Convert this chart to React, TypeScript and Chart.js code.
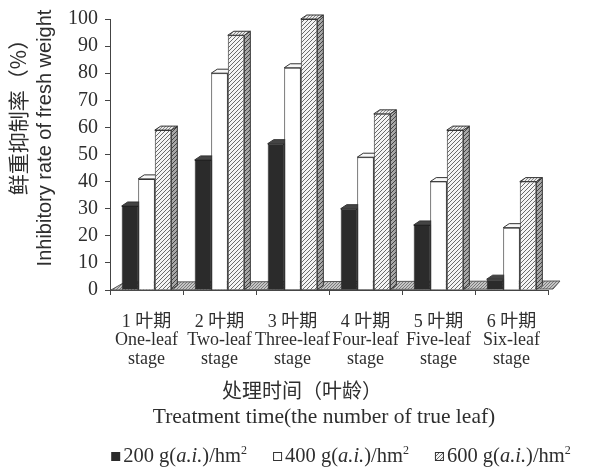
import React, { useEffect, useRef } from 'react';
import { Chart, registerables } from 'chart.js';
Chart.register(...registerables);

const categories: string[][] = [
  ['1 叶期', 'One-leaf', 'stage'],
  ['2 叶期', 'Two-leaf', 'stage'],
  ['3 叶期', 'Three-leaf', 'stage'],
  ['4 叶期', 'Four-leaf', 'stage'],
  ['5 叶期', 'Five-leaf', 'stage'],
  ['6 叶期', 'Six-leaf', 'stage'],
];
const doses = ['200', '400', '600'];
const rate200 = [31, 48, 54, 30, 24, 4];
const rate400 = [41, 80, 82, 49, 40, 23];
const rate600 = [59, 94, 100, 65, 59, 40];
const yMin = 0;
const yMax = 100;
const yStep = 10;
const yTitleLines = ['鲜重抑制率（%）', 'Inhibitory rate of fresh weight'];
const xTitleLines = ['处理时间（叶龄）', 'Treatment time(the number of true leaf)'];
const unitParts = [' g(', 'a.i.', ')/hm', '2'];

const SERIF = "'Liberation Serif', 'Times New Roman', 'Noto Sans CJK SC', serif";
const CJK = "'Noto Sans CJK SC', sans-serif";
const SANS = "'Liberation Sans', Arial, sans-serif";
const INK = '#2e2e2e';

function makeHatch(bg: string, fg: string, size: number) {
  const c = document.createElement('canvas');
  c.width = size;
  c.height = size;
  const g = c.getContext('2d')!;
  g.fillStyle = bg;
  g.fillRect(0, 0, size, size);
  g.fillStyle = fg;
  for (let i = 0; i < size; i++) g.fillRect(i, size - 1 - i, 1, 1);
  return g.createPattern(c, 'repeat')!;
}

function makeDots(bg: string, fg: string) {
  const c = document.createElement('canvas');
  c.width = 3;
  c.height = 3;
  const g = c.getContext('2d')!;
  g.fillStyle = bg;
  g.fillRect(0, 0, 3, 3);
  g.fillStyle = fg;
  g.fillRect(0, 0, 1, 1);
  g.fillRect(2, 1, 1, 1);
  g.fillRect(1, 2, 1, 1);
  return g.createPattern(c, 'repeat')!;
}

export default function App() {
  const ref = useRef<HTMLCanvasElement | null>(null);

  useEffect(() => {
    document.body.style.margin = '0';
    const canvas = ref.current!;
    const hatch = makeHatch('#f4f4f4', '#6a6a6a', 4);
    const hatchSide = makeHatch('#a8a8a8', '#444', 4);
    const dotsTop = makeDots('#e8e8e8', '#888');
    const floorFill = makeDots('#c4c4c4', '#7a7a7a');

    const fronts = ['#2b2b2b', '#ffffff', hatch];
    const sides = ['#151515', '#e6e6e6', hatchSide];
    const tops = ['#444', '#f8f8f8', dotsTop];

    const depthPlugin = {
      id: 'depth3d',
      beforeDatasetsDraw(chart: any) {
        const ctx = chart.ctx as CanvasRenderingContext2D;
        const a = chart.chartArea;
        ctx.save();
        ctx.beginPath();
        ctx.moveTo(a.left + 1, a.bottom);
        ctx.lineTo(a.left + 15, a.bottom - 8);
        ctx.lineTo(a.right + 12, a.bottom - 9);
        ctx.lineTo(a.right + 5, a.bottom - 1);
        ctx.closePath();
        ctx.fillStyle = floorFill;
        ctx.fill();
        ctx.strokeStyle = '#555';
        ctx.lineWidth = 1;
        ctx.stroke();
        const dx = 6;
        const dy = -4;
        chart.data.datasets.forEach((_ds: any, i: number) => {
          const meta = chart.getDatasetMeta(i);
          meta.data.forEach((el: any) => {
            const l = el.x - el.width / 2;
            const r = el.x + el.width / 2;
            const t = el.y;
            const b = el.base;
            ctx.beginPath();
            ctx.moveTo(r, t);
            ctx.lineTo(r + dx, t + dy);
            ctx.lineTo(r + dx, b + dy);
            ctx.lineTo(r, b);
            ctx.closePath();
            ctx.fillStyle = sides[i];
            ctx.fill();
            ctx.strokeStyle = '#333';
            ctx.stroke();
            ctx.beginPath();
            ctx.moveTo(l, t);
            ctx.lineTo(l + dx, t + dy);
            ctx.lineTo(r + dx, t + dy);
            ctx.lineTo(r, t);
            ctx.closePath();
            ctx.fillStyle = tops[i];
            ctx.fill();
            ctx.strokeStyle = '#333';
            ctx.stroke();
          });
        });
        ctx.restore();
      },
    };

    const textPlugin = {
      id: 'titlesAndLegend',
      afterDraw(chart: any) {
        const ctx = chart.ctx as CanvasRenderingContext2D;
        ctx.save();
        ctx.fillStyle = INK;
        ctx.textAlign = 'center';
        ctx.textBaseline = 'middle';
        // y title
        ctx.save();
        ctx.translate(18, 112);
        ctx.rotate(-Math.PI / 2);
        ctx.font = `21px ${CJK}`;
        ctx.fillText(yTitleLines[0], 0, 0);
        ctx.restore();
        ctx.save();
        ctx.translate(45, 138);
        ctx.rotate(-Math.PI / 2);
        ctx.font = `20px ${SANS}`;
        ctx.fillText(yTitleLines[1], 0, 0);
        ctx.restore();
        // x title
        ctx.font = `20px ${CJK}`;
        ctx.fillText(xTitleLines[0], 302, 390);
        ctx.font = `21.5px ${SERIF}`;
        ctx.fillText(xTitleLines[1], 324, 417);

        // legend
        const fN = `20.5px ${SERIF}`;
        const fI = `italic 20.5px ${SERIF}`;
        const fS = `12px ${SERIF}`;
        ctx.textAlign = 'left';
        ctx.textBaseline = 'alphabetic';
        const box = 9;
        const gapBox = 3;
        const gapItem = 26;
        const items = doses.map((d, i) => {
          const parts = [
            { t: d + unitParts[0], f: fN, dy: 0 },
            { t: unitParts[1], f: fI, dy: 0 },
            { t: unitParts[2], f: fN, dy: 0 },
            { t: unitParts[3], f: fS, dy: -8 },
          ];
          let w = 0;
          parts.forEach((p) => {
            ctx.font = p.f;
            w += ctx.measureText(p.t).width;
          });
          return { parts, w: w + box + gapBox, i };
        });
        const total = items.reduce((s, it) => s + it.w, 0) + gapItem * (items.length - 1);
        let x = 341 - total / 2;
        const base = 462;
        items.forEach((it) => {
          const by = base - box - 1;
          ctx.fillStyle = fronts[it.i] as any;
          ctx.fillRect(x, by, box, box);
          if (it.i > 0) {
            ctx.strokeStyle = '#333';
            ctx.lineWidth = 1;
            ctx.strokeRect(x + 0.5, by + 0.5, box - 1, box - 1);
          }
          let tx = x + box + gapBox;
          ctx.fillStyle = INK;
          it.parts.forEach((p) => {
            ctx.font = p.f;
            ctx.fillText(p.t, tx, base + p.dy);
            tx += ctx.measureText(p.t).width;
          });
          x += it.w + gapItem;
        });
        ctx.restore();
      },
    };

    const chart = new Chart(canvas, {
      type: 'bar',
      data: {
        labels: categories,
        datasets: [
          {
            label: doses[0] + ' g(a.i.)/hm²',
            data: rate200,
            backgroundColor: fronts[0],
            borderColor: '#222',
            borderWidth: 1,
          },
          {
            label: doses[1] + ' g(a.i.)/hm²',
            data: rate400,
            backgroundColor: fronts[1],
            borderColor: '#333',
            borderWidth: 1,
          },
          {
            label: doses[2] + ' g(a.i.)/hm²',
            data: rate600,
            backgroundColor: fronts[2] as any,
            borderColor: '#333',
            borderWidth: 1,
          },
        ],
      },
      options: {
        responsive: false,
        animation: false,
        devicePixelRatio: 1,
        layout: { padding: { left: 0, top: 18, right: 41, bottom: 57 } },
        datasets: { bar: { categoryPercentage: 0.68, barPercentage: 1.0 } },
        plugins: { legend: { display: false }, tooltip: { enabled: false } },
        scales: {
          x: {
            afterFit: (s: any) => {
              s.height = 120;
            },
            grid: {
              offset: true,
              drawOnChartArea: false,
              drawTicks: true,
              tickLength: 5,
              color: '#444',
            },
            border: { display: true, color: '#444', width: 1 },
            ticks: {
              color: INK,
              padding: 18,
              maxRotation: 0,
              autoSkip: false,
              font: { family: SERIF, size: 18, lineHeight: '18.5px' },
            },
          },
          y: {
            min: yMin,
            max: yMax,
            afterFit: (s: any) => {
              s.width = 110;
            },
            grid: {
              drawOnChartArea: false,
              drawTicks: true,
              tickLength: 5,
              color: '#444',
            },
            border: { display: true, color: '#444', width: 1 },
            ticks: {
              stepSize: yStep,
              color: INK,
              padding: 7,
              font: { family: SERIF, size: 20 },
            },
          },
        },
      },
      plugins: [depthPlugin, textPlugin],
    });
    return () => chart.destroy();
  }, []);

  return (
    <div style={{ width: 589, height: 467, background: '#fff' }}>
      <canvas ref={ref} width={589} height={467} style={{ display: 'block' }} />
    </div>
  );
}
